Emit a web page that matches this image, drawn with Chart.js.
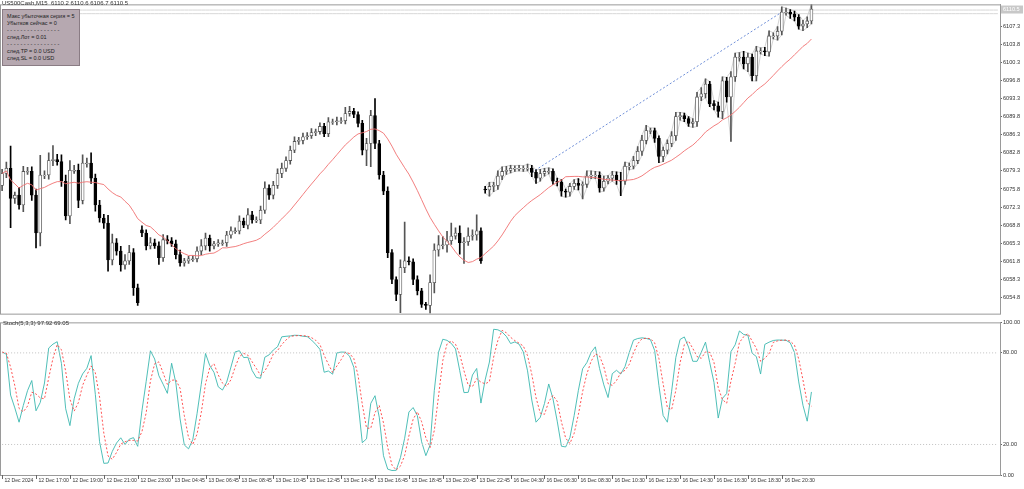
<!DOCTYPE html>
<html><head><meta charset="utf-8">
<script src="https://cdn.jsdelivr.net/npm/chart.js@4"></script>
<style>
html,body{margin:0;padding:0;background:#fff;width:1024px;height:489px;overflow:hidden;font-family:"Liberation Sans",Arial,sans-serif}
#top{position:absolute;left:0;top:0;width:1024px;height:318px}
#bot{position:absolute;left:0;top:318px;width:1024px;height:171px}
#hdr{position:absolute;left:2px;top:0px;font-size:6px;color:#333;white-space:pre}
#box{position:absolute;left:2px;top:9px;width:78px;height:57px;background:#b6a8b0;border:1px solid #8a7c84;font-size:5.5px;line-height:7px;color:#222;padding:3px 4px;box-sizing:border-box;white-space:nowrap}
#sh{position:absolute;left:3px;top:320px;font-size:6px;color:#333}
</style></head><body>
<div id="top"><canvas id="c1"></canvas></div>
<div id="bot"><canvas id="c2"></canvas></div>
<div id="hdr">US500Cash,M15  6110.2 6110.6 6106.7 6110.5</div>
<div id="box">Макс убыточная серия = 5<br>Убытков сейчас = 0<br>- - - - - - - - - - - - - - - -<br>след.Лот = 0.01<br>- - - - - - - - - - - - - - - -<br>след.TP = 0.0 USD<br>след.SL = 0.0 USD</div>
<div id="sh">Stoch(5,3,3) 97.92 69.05</div>
<script>
const closes=[6078.8,6079.8,6074.0,6074.6,6072.7,6079.2,6079.2,6074.6,6067.3,6078.5,6078.5,6081.3,6081.5,6081.1,6077.3,6070.6,
6079.4,6079.4,6073.6,6080.8,6080.8,6077.9,6072.7,6070.2,6069.2,6062.1,6065.4,6063.8,6061.1,6061.9,6063.5,6056.7,
6053.8,6067.3,6064.8,6065.4,6064.8,6062.5,6066.0,6065.8,6065.2,6063.1,6061.5,6061.9,6062.3,6062.3,6063.8,6064.8,
6066.3,6064.8,6065.2,6065.4,6065.4,6066.9,6067.7,6067.7,6069.6,6068.8,6070.8,6069.8,6069.8,6071.7,6076.0,6074.6,
6076.5,6078.8,6079.8,6081.3,6083.3,6085.0,6085.2,6085.9,6086.1,6086.7,6086.9,6087.9,6086.5,6088.8,6088.8,6089.0,
6089.0,6090.4,6090.8,6090.2,6088.5,6083.3,6084.6,6090.0,6084.6,6078.5,6075.4,6063.5,6058.3,6055.4,6060.6,6061.9,
6061.7,6058.3,6056.1,6053.5,6053.3,6057.7,6064.0,6065.0,6065.0,6065.8,6066.7,6067.3,6065.4,6065.6,6066.7,6066.9,
6067.7,6061.9,6075.6,6076.3,6076.5,6078.3,6079.2,6079.4,6079.8,6079.8,6079.8,6079.8,6079.8,6079.0,6077.9,6078.8,
6079.2,6079.2,6077.3,6077.1,6075.4,6075.2,6076.3,6076.9,6076.5,6076.7,6078.3,6078.5,6078.5,6076.0,6077.3,6077.9,
6078.5,6077.5,6077.3,6080.2,6080.2,6081.3,6083.1,6085.2,6087.1,6087.1,6085.6,6082.1,6083.3,6084.6,6086.1,6089.8,
6090.0,6089.4,6088.5,6088.8,6093.6,6094.2,6096.1,6092.3,6091.9,6090.8,6096.7,6093.6,6097.5,6101.3,6101.3,6100.0,
6101.3,6097.7,6102.5,6102.5,6102.3,6105.4,6105.4,6106.3,6110.0,6110.0,6109.6,6109.0,6107.3,6107.7,6108.3,6110.6];
const wickUp=[0.8,1.2,4.3,0.6,1.5,1.0,0.8,0.9,1.2,3.8,0.8,1.5,2.7,1.0,1.3,1.2,
1.9,1.0,1.2,1.6,1.0,2.0,0.8,0.9,0.7,1.5,1.7,0.8,0.9,1.2,1.4,0.8,
0.7,0.8,0.6,1.0,0.7,0.8,1.0,0.8,0.6,0.7,0.9,0.5,0.5,0.6,0.8,1.2,
1.0,0.6,0.5,0.6,0.5,0.7,0.8,0.6,1.0,0.6,1.2,0.7,0.6,0.8,1.2,0.6,
0.8,0.9,1.0,0.7,0.8,0.9,0.6,0.7,0.6,0.8,0.5,0.7,0.6,0.8,0.5,0.7,
0.6,1.2,1.0,0.6,0.5,0.6,1.0,1.0,3.3,0.6,0.7,0.8,0.6,0.5,1.5,7.5,
0.8,0.6,0.7,0.5,0.4,1.5,1.2,1.8,1.6,1.8,2.5,1.0,1.4,0.8,1.6,1.0,
3.1,0.6,0.5,0.8,0.6,1.0,0.9,0.8,0.6,0.5,0.6,0.5,0.8,0.6,0.5,0.8,
0.6,0.7,0.5,0.6,0.5,0.4,0.6,0.7,0.9,0.5,1.0,0.8,0.7,0.6,1.0,0.5,
0.7,0.6,1.5,0.8,0.6,0.8,0.9,1.0,1.0,0.5,0.5,0.5,0.6,0.7,0.8,0.8,
0.6,0.5,0.4,0.6,0.9,1.2,1.0,0.5,0.6,0.7,0.8,0.7,1.0,0.8,0.9,1.1,
0.8,0.6,0.9,0.6,0.7,1.0,0.6,0.9,1.0,0.8,0.5,0.6,0.5,0.7,0.8,0.9];
const wickDn=[1.0,0.8,5.7,1.0,0.8,1.3,0.6,1.0,2.9,2.5,0.7,0.8,1.0,0.7,1.0,0.8,
1.5,0.6,1.4,0.7,0.8,1.0,1.2,0.8,1.0,2.2,1.0,0.8,1.2,0.8,0.7,1.5,
0.5,0.7,0.8,0.6,0.5,1.3,0.7,0.6,0.5,0.8,0.6,0.6,0.5,0.5,0.6,0.7,
0.8,1.0,0.6,0.5,0.5,0.7,0.6,0.5,0.6,0.5,0.7,0.6,0.5,0.7,0.6,0.8,
0.7,0.6,0.8,0.6,0.7,0.5,0.6,0.7,0.5,0.5,0.6,0.5,0.6,0.6,0.5,0.6,
0.5,0.6,0.5,0.6,0.7,0.9,3.0,4.5,1.0,0.8,0.7,1.0,0.8,1.2,3.5,1.0,
0.6,1.0,0.8,0.6,0.8,1.5,2.0,1.2,0.8,1.4,0.7,0.6,2.2,4.0,0.7,0.8,
1.0,0.5,0.6,1.2,1.0,0.8,0.7,0.6,0.5,0.6,0.5,0.6,0.5,0.8,1.0,0.6,
0.5,0.5,0.6,0.7,1.0,1.0,0.8,0.6,0.9,2.6,0.6,0.5,0.7,0.8,0.6,0.5,
0.6,0.8,2.8,0.6,0.7,0.5,0.6,0.8,0.7,0.6,0.8,1.2,1.0,0.7,0.6,0.9,
0.7,0.6,0.6,0.8,0.9,0.7,0.8,0.6,0.8,1.1,1.4,1.0,8.6,0.9,0.8,1.0,
1.5,1.0,1.0,0.6,0.7,0.8,0.6,0.8,0.7,0.6,0.8,0.7,0.6,0.9,0.7,0.6];
const gapOpens={0:6076.5,33:6067.9,114:6075.8};
const tickLabels=["12 Dec 2024","12 Dec 17:00","12 Dec 19:00","12 Dec 21:00","12 Dec 23:00","13 Dec 04:45","13 Dec 06:45","13 Dec 08:45","13 Dec 10:45","13 Dec 12:45","13 Dec 14:45","13 Dec 16:45","13 Dec 18:45","13 Dec 20:45","13 Dec 22:45","16 Dec 04:30","16 Dec 06:30","16 Dec 08:30","16 Dec 10:30","16 Dec 12:30","16 Dec 14:30","16 Dec 16:30","16 Dec 18:30","16 Dec 20:30"];
const priceTicks=[6054.8,6058.3,6061.8,6065.3,6068.8,6072.3,6075.8,6079.3,6082.8,6086.3,6089.8,6093.3,6096.8,6100.3,6103.8,6107.3];
const stochTicks=[0,20,80,100];
const trend=[{i:125,v:6079.0},{i:184,v:6110.0}];
const lastPrice=6110.5;
const envStart=114, totalSlots=236;

const N=closes.length;
const labels=[];for(let i=0;i<totalSlots;i++)labels.push(i%8===0&&i/8<tickLabels.length?tickLabels[i/8]:'');
const opens=closes.map((c,i)=>gapOpens[i]!==undefined?gapOpens[i]:closes[i-1]);
const highs=closes.map((c,i)=>Math.max(c,opens[i])+wickUp[i]);
const lows=closes.map((c,i)=>Math.min(c,opens[i])-wickDn[i]);
const body=closes.map((c,i)=>{let o=opens[i];if(Math.abs(c-o)<0.15){o=c-0.15;}return [o,c];});
const up=closes.map((c,i)=>c>=opens[i]);
const ma=closes.map((c,i)=>{const s=closes.slice(Math.max(0,i-19),i+1);return s.reduce((a,b)=>a+b,0)/s.length;});
const K=[],D=[];
for(let i=0;i<N;i++){let num=0,den=0;for(let j=Math.max(0,i-2);j<=i;j++){const a=Math.max(0,j-4);const hh=Math.max(...highs.slice(a,j+1)),ll=Math.min(...lows.slice(a,j+1));num+=closes[j]-ll;den+=hh-ll;}K.push(den?num/den*100:50);}
for(let i=0;i<N;i++){const s=K.slice(Math.max(0,i-2),i+1);D.push(s.reduce((a,b)=>a+b,0)/s.length);}
const trendData=labels.map(()=>null);trend.forEach(p=>trendData[p.i]=p.v);
const envH=highs.map((h,i)=>i>=envStart?h:null), envL=lows.map((l,i)=>i>=envStart?l:null);
const font={family:"Liberation Sans",size:5.6};
const frame={id:'frame',afterDraw(c){const a=c.chartArea,x=c.ctx;x.save();x.strokeStyle='#9a9a9a';x.lineWidth=1;x.strokeRect(a.left+0.5,a.top+0.5,a.right-a.left,a.bottom-a.top);x.restore();}};
const xLabels={id:'xl',afterDraw(c){const s=c.scales.x,x=c.ctx,a=c.chartArea;x.save();x.strokeStyle='#666';x.fillStyle='#333';x.font='5.1px Liberation Sans';x.textBaseline='top';
 labels.forEach((l,i)=>{if(!l)return;const px=Math.round(s.getPixelForValue(i))+0.5;x.beginPath();x.moveTo(px,a.bottom);x.lineTo(px,a.bottom+4);x.stroke();x.fillText(l,px+2,a.bottom+3);});x.restore();}};
const rightFit=s=>{s.width=24;};
const priceLabel={id:'pl',afterDraw(c){const y=c.scales.y,x=c.ctx,py=y.getPixelForValue(lastPrice);x.save();x.fillStyle='#c8c8c8';x.fillRect(c.chartArea.right+1,py-4,22,8);x.fillStyle='#fff';x.font='5.6px Liberation Sans';x.textBaseline='middle';x.fillText(lastPrice.toFixed(1),c.chartArea.right+3,py);x.restore();}};
new Chart(document.getElementById('c1'),{type:'bar',
 data:{labels,datasets:[
  {type:'line',data:labels.map(()=>6110.4),borderColor:'#d8d8d8',borderWidth:1,pointRadius:0,order:10},
  {type:'line',data:labels.map(()=>6109.7),borderColor:'#d8d8d8',borderWidth:1,pointRadius:0,order:10},
  {type:'line',data:envH,borderColor:'#c8c8c8',borderWidth:0.8,pointRadius:0,order:9},
  {type:'line',data:envL,borderColor:'#c8c8c8',borderWidth:0.8,pointRadius:0,order:9},
  {type:'line',data:trendData,spanGaps:true,borderColor:'#6f8fd8',borderDash:[2,2],borderWidth:1,pointRadius:0,order:8},
  {type:'line',data:ma,borderColor:'#f07070',borderWidth:0.9,pointRadius:0,order:1},
  {data:lows.map((l,i)=>[l,highs[i]]),backgroundColor:up.map(u=>u?'#555':'#000'),barThickness:1,grouped:false,order:3},
  {data:body,backgroundColor:up.map(u=>u?'#fff':'#000'),borderColor:up.map(u=>u?'#555':'#000'),borderWidth:0.8,borderSkipped:false,barThickness:3,grouped:false,order:2}
 ]},
 options:{responsive:true,maintainAspectRatio:false,animation:false,events:[],layout:{padding:{top:4,bottom:1,left:0,right:0}},
  plugins:{legend:{display:false},tooltip:{enabled:false}},
  scales:{x:{type:'category',offset:true,display:false},
   y:{position:'right',min:6051.7,max:6111.5,afterFit:rightFit,afterBuildTicks(s){s.ticks=priceTicks.map(v=>({value:v}));},
    grid:{drawOnChartArea:false,tickLength:2,color:'#666'},border:{color:'#9a9a9a'},
    ticks:{color:'#333',font,padding:1,callback:v=>v.toFixed(1)}}}},
 plugins:[frame,priceLabel]});
new Chart(document.getElementById('c2'),{type:'line',
 data:{labels,datasets:[
  {data:labels.map(()=>80),borderColor:'#c0c0c0',borderDash:[1,2],borderWidth:1,pointRadius:0},
  {data:labels.map(()=>20),borderColor:'#c0c0c0',borderDash:[1,2],borderWidth:1,pointRadius:0},
  {data:D,borderColor:'#ff4040',borderDash:[2,2],borderWidth:0.9,pointRadius:0},
  {data:K,borderColor:'#3cb8b0',borderWidth:0.9,pointRadius:0}
 ]},
 options:{responsive:true,maintainAspectRatio:false,animation:false,events:[],layout:{padding:{top:4,bottom:0}},
  plugins:{legend:{display:false},tooltip:{enabled:false}},
  scales:{x:{type:'category',offset:true,grid:{display:false},border:{display:false},ticks:{display:false},afterFit(s){s.height=14;}},
   y:{position:'right',min:0,max:100,afterFit:rightFit,afterBuildTicks(s){s.ticks=stochTicks.map(v=>({value:v}));},
    grid:{drawOnChartArea:false,tickLength:2,color:'#666'},border:{color:'#9a9a9a'},
    ticks:{color:'#333',font,padding:1,callback:v=>v.toFixed(2)}}}},
 plugins:[frame,xLabels]});
</script></body></html>
